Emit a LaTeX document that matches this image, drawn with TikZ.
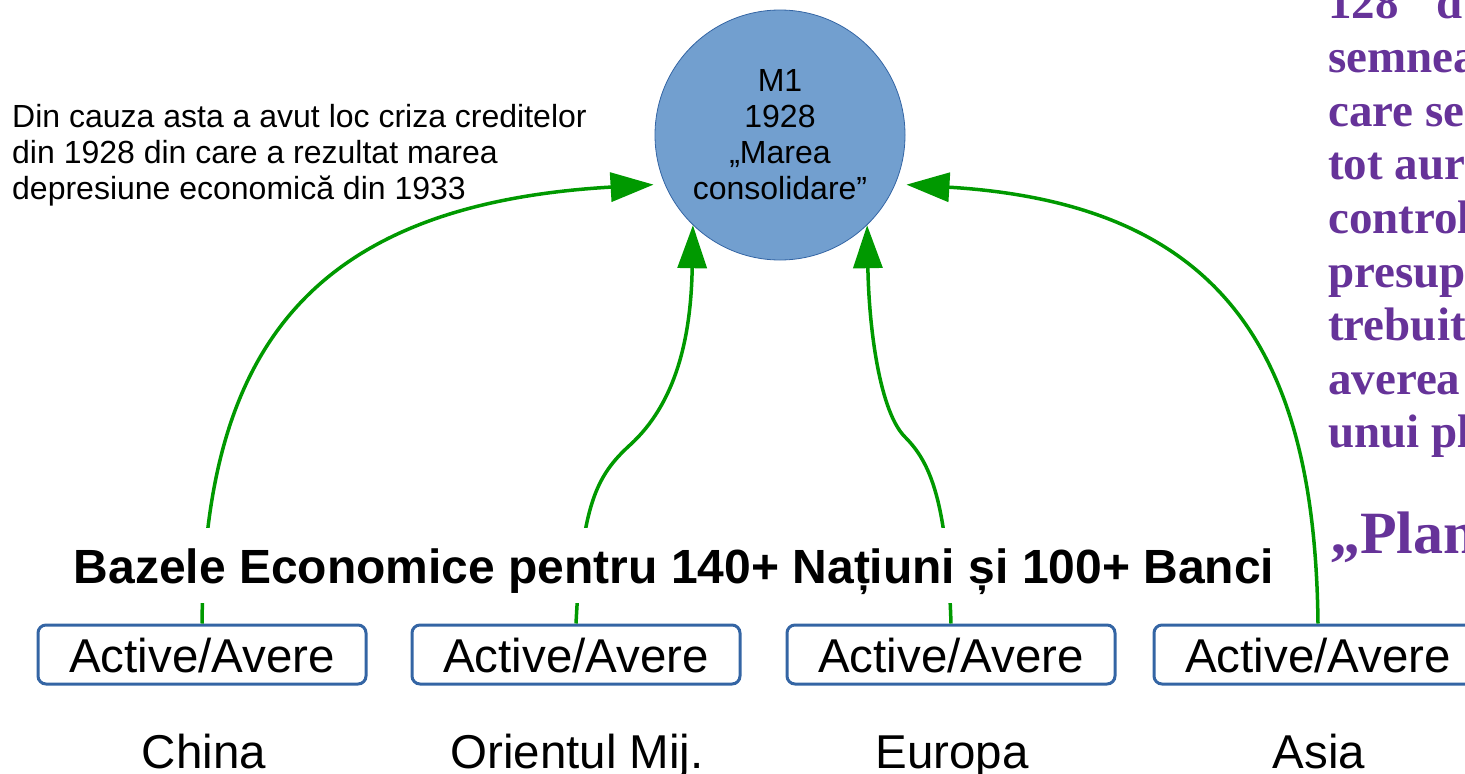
\documentclass[tikz,border=0pt]{standalone}
\usepackage{fontspec}
\setmainfont{Liberation Sans}
\newfontfamily\purplefont{Liberation Serif}
\usetikzlibrary{arrows.meta}
\definecolor{arrowgreen}{RGB}{0,153,0}
\definecolor{boxblue}{RGB}{52,101,164}
\definecolor{circfill}{RGB}{114,159,207}
\definecolor{txtpurple}{RGB}{102,51,153}
\begin{document}
\begin{tikzpicture}[x=1pt,y=-1pt,
  conn/.style={draw=arrowgreen, line width=3.5pt, -{Triangle[length=43pt,width=29pt]}},
  assetbox/.style={draw=boxblue, line width=3pt, rounded corners=8pt, minimum width=328pt,
    inner xsep=0pt, inner ysep=0pt, text height=47pt, text depth=12pt, anchor=base,
    font=\fontsize{47.5pt}{57pt}\selectfont},
  region/.style={anchor=base, inner sep=0pt, font=\fontsize{47.5pt}{57pt}\selectfont},
  purpleline/.style={anchor=base west, inner sep=0pt, text=txtpurple,
    font=\purplefont\bfseries\fontsize{47pt}{54pt}\selectfont},
]
\useasboundingbox (0,0) rectangle (1465,774);

% central circle
\node[circle, fill=circfill, draw=boxblue, line width=0.8pt, minimum size=250pt, inner sep=0pt,
  align=center, font=\fontsize{32pt}{36pt}\selectfont] (m1) at (780,135)
  {M1\\1928\\„Marea\\consolidare”};

% left note
\node[anchor=north west, inner sep=0pt, align=left, font=\fontsize{32pt}{36pt}\selectfont] (note) at (12,104)
  {Din cauza asta a avut loc criza creditelor\\din 1928 din care a rezultat marea\\depresiune economică din 1933};

% asset boxes
\node[assetbox] (b1) at (202,672) {Active/Avere};
\node[assetbox] (b2) at (576,672) {Active/Avere};
\node[assetbox] (b3) at (951,672) {Active/Avere};

\begin{scope}
\clip (0,0) rectangle (1465,774);
\node[assetbox] (b4) at (1318,672) {Active/Avere};
\node[purpleline] (p0) at (1328,18) {128\hspace{38pt}d};
\node[purpleline] (p1) at (1328,72) {semnea};
\node[purpleline] (p2) at (1328,126) {care se};
\node[purpleline] (p3) at (1328,179) {tot aur};
\node[purpleline] (p4) at (1328,233) {control};
\node[purpleline] (p5) at (1328,287) {presup};
\node[purpleline] (p6) at (1328,340) {trebuit};
\node[purpleline] (p7) at (1328,394) {averea};
\node[purpleline] (p8) at (1328,447) {unui pl};
\node[purpleline, font=\purplefont\bfseries\fontsize{60pt}{70pt}\selectfont] (p9) at (1330,553) {„Plan};
\end{scope}

% region labels
\node[region] (l1) at (204,768) {China};
\node[region] (l2) at (577,768) {Orientul Mij.};
\node[region] (l3) at (952,768) {Europa};
\node[region] (l4) at (1319,768) {Asia};

% connectors
\draw[conn, shorten >=11pt] (b1.north) .. controls (205,360) and (300,205) .. (m1.203);
\draw[conn] (b2.north) .. controls (582,505) and (596,476) .. (630,445)
  .. controls (675,404) and (691,340) .. (m1.226);
\draw[conn] (b3.north) .. controls (947,500) and (930,462) .. (905,437)
  .. controls (880,412) and (869,330) .. (m1.314);
\draw[conn, shorten >=11pt] (b4.north) .. controls (1315,360) and (1229,204) .. (m1.337);

% title (covers the connectors)
\node[anchor=base, fill=white, inner sep=0pt, text height=55pt, text depth=20pt,
  font=\bfseries\fontsize{48pt}{57pt}\selectfont] (title) at (674,583)
  {Bazele Economice pentru 140+ Națiuni și 100+ Banci};
\end{tikzpicture}
\end{document}
